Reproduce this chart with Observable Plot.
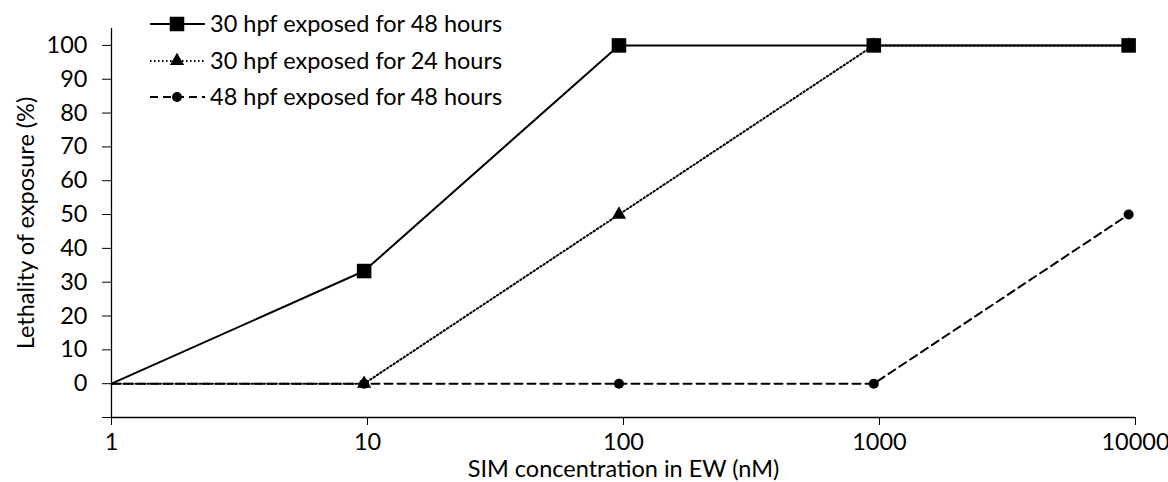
<!DOCTYPE html>
<html>
<head>
<meta charset="utf-8">
<script src="https://cdn.jsdelivr.net/npm/d3@7"></script>
<script src="https://cdn.jsdelivr.net/npm/@observablehq/plot@0.6"></script>
<style>
  html, body { margin: 0; padding: 0; background: #fff; }
  #wrap { position: relative; width: 1168px; height: 482px; font-family: Lato, "Open Sans", sans-serif; }
  #legend { position: absolute; left: 0; top: 0; pointer-events: none; }
</style>
</head>
<body>
<div id="wrap"></div>
<script>
// ---- data ----
const concentrations = [1, 9.7, 96, 950, 9400];
const seriesNames = ["30 hpf exposed for 48 hours", "30 hpf exposed for 24 hours", "48 hpf exposed for 48 hours"];
const lethality30h48 = [0, 33.3, 100, 100, 100];
const lethality30h24 = [0, 0, 50, 100, 100];
const lethality48h48 = [0, 0, 0, 0, 50];
const xTickValues = [1, 10, 100, 1000, 10000];
const yTickValues = [-10, 0, 10, 20, 30, 40, 50, 60, 70, 80, 90, 100];
const xTitle = "SIM concentration in EW (nM)";
const yTitle = "Lethality of exposure (%)";

const FONT = "Lato, 'Open Sans', sans-serif";
const FS = 23.5;

// ---- styling per series ----
const styles = [
  {dash: null, symbol: "square", r: 8.2, sym: d3.symbolSquare},
  {dash: "1.5,2.5", symbol: "triangle", r: 5.3, sym: d3.symbolTriangle},
  {dash: "8,5", symbol: "circle", r: 5, sym: d3.symbolCircle}
];

const allSeries = [lethality30h48, lethality30h24, lethality48h48];
const rows = [];
allSeries.forEach((vals, si) => vals.forEach((v, i) => rows.push({x: concentrations[i], y: v, s: seriesNames[si], si, i})));

const lineMarks = [];
const dotMarks = [];
[2, 1, 0].forEach(si => {
  const data = rows.filter(d => d.si === si);
  lineMarks.push(Plot.line(data, {x: "x", y: "y", stroke: "#000", strokeWidth: 2, strokeDasharray: styles[si].dash || undefined}));
  dotMarks.push(Plot.dot(data.filter(d => d.i > 0), {x: "x", y: "y", symbol: () => styles[si].symbol, r: styles[si].r, fill: "#000", stroke: "none"}));
});

const chart = Plot.plot({
  width: 1168,
  height: 482,
  marginLeft: 111,
  marginRight: 33,
  marginTop: 28,
  marginBottom: 65,
  style: {fontFamily: FONT, fontSize: FS + "px", color: "#000", background: "#fff", overflow: "visible"},
  x: {type: "log", domain: [1, 10000]},
  y: {domain: [-10, 105]},
  symbol: {type: "identity"},
  marks: [
    Plot.ruleY([-10], {stroke: "#000", strokeWidth: 1.3}),
    Plot.ruleX([1], {stroke: "#000", strokeWidth: 1.3}),
    Plot.axisX({ticks: xTickValues, tickFormat: d => String(d), tickSize: 8, tickPadding: 8, label: null, fontSize: FS}),
    Plot.axisY({ticks: yTickValues, tickFormat: d => d < 0 ? "" : String(d), tickSize: 9, tickPadding: 15, label: null, fontSize: FS}),
    Plot.text([xTitle], {frameAnchor: "bottom", dy: 52, lineAnchor: "middle", textAnchor: "middle", fontSize: FS}),
    Plot.text([yTitle], {frameAnchor: "left", dx: -85, rotate: -90, textAnchor: "middle", lineAnchor: "middle", fontSize: FS}),
    ...lineMarks,
    ...dotMarks
  ]
});
document.getElementById("wrap").appendChild(chart);

// ---- legend overlay ----
const legend = d3.select("#wrap").append("svg")
  .attr("id", "legend").attr("width", 560).attr("height", 120);
const rowY = [24, 61, 97];
seriesNames.forEach((name, si) => {
  const g = legend.append("g").attr("transform", `translate(0,${rowY[si]})`);
  g.append("line").attr("x1", 150).attr("x2", 205).attr("y1", 0).attr("y2", 0)
    .attr("stroke", "#000").attr("stroke-width", 2)
    .attr("stroke-dasharray", styles[si].dash);
  g.append("path").attr("transform", "translate(177,0)")
    .attr("d", d3.symbol(styles[si].sym, Math.PI * styles[si].r * styles[si].r)())
    .attr("fill", "#000");
  g.append("text").attr("x", 210).attr("y", 0).attr("dy", "0.35em")
    .attr("font-family", FONT).attr("font-size", FS).text(name);
});
</script>
</body>
</html>
